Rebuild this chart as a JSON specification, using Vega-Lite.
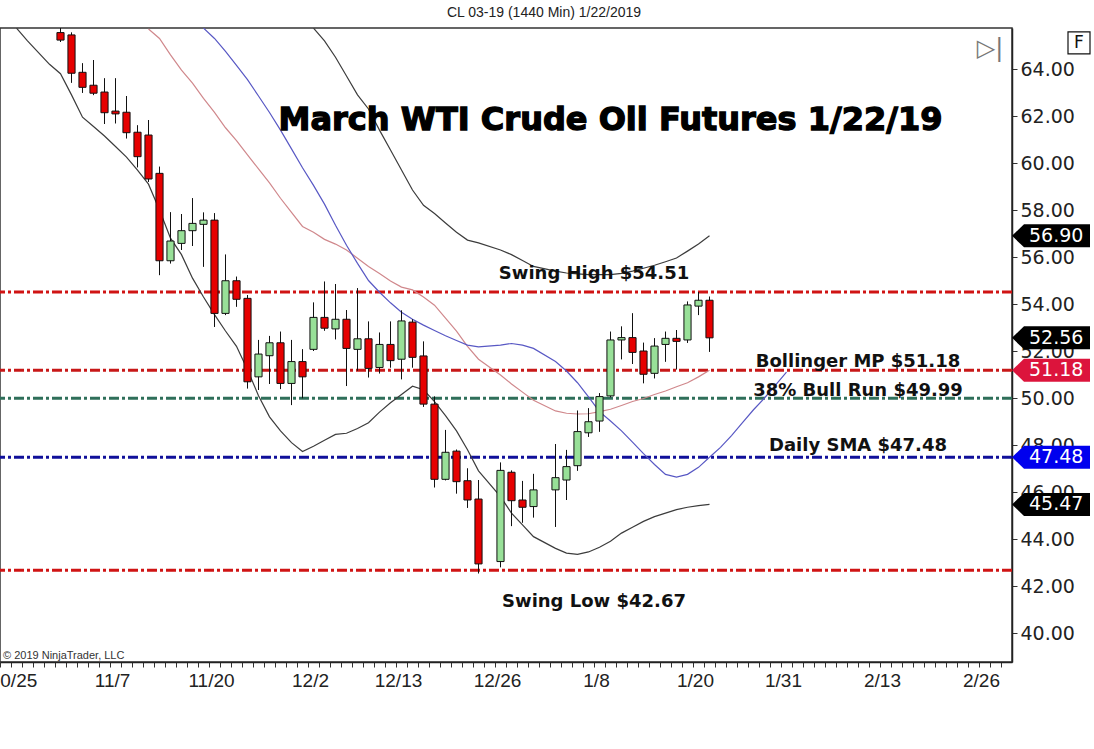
{
  "$schema": "https://vega.github.io/schema/vega-lite/v6.json",
  "width": 1012,
  "height": 634,
  "autosize": {"type": "none"},
  "padding": {"left": 0, "top": 28, "right": 82, "bottom": 87},
  "background": "white",
  "config": {"view": {"stroke": "#333", "strokeWidth": 1.5}, "font": "DejaVu Sans"},
  "title": {"text": "CL 03-19 (1440 Min)  1/22/2019", "font": "Liberation Sans", "fontSize": 14, "fontWeight": "normal", "color": "#222", "baseline": "alphabetic", "offset": -3, "dx": 38},
  "datasets": {
    "candles": [
      {"d": "2018-10-31", "o": 65.55, "h": 65.74, "l": 65.15, "c": 65.23},
      {"d": "2018-11-01", "o": 65.45, "h": 65.55, "l": 63.42, "c": 63.82},
      {"d": "2018-11-02", "o": 63.86, "h": 64.24, "l": 62.99, "c": 63.22},
      {"d": "2018-11-05", "o": 63.31, "h": 64.38, "l": 62.89, "c": 62.97},
      {"d": "2018-11-06", "o": 63.02, "h": 63.6, "l": 61.66, "c": 62.14},
      {"d": "2018-11-07", "o": 62.21, "h": 63.6, "l": 61.69, "c": 62.09},
      {"d": "2018-11-08", "o": 62.16, "h": 62.85, "l": 61.05, "c": 61.29},
      {"d": "2018-11-09", "o": 61.31, "h": 61.6, "l": 59.82, "c": 60.27},
      {"d": "2018-11-12", "o": 61.19, "h": 61.83, "l": 59.2, "c": 59.32},
      {"d": "2018-11-13", "o": 59.56, "h": 59.84, "l": 55.23, "c": 55.84},
      {"d": "2018-11-14", "o": 55.84, "h": 57.9, "l": 55.73, "c": 56.68},
      {"d": "2018-11-15", "o": 56.58, "h": 57.83, "l": 56.3, "c": 57.12},
      {"d": "2018-11-16", "o": 57.12, "h": 58.5, "l": 56.47, "c": 57.43},
      {"d": "2018-11-19", "o": 57.39, "h": 57.89, "l": 55.59, "c": 57.57},
      {"d": "2018-11-20", "o": 57.57, "h": 57.86, "l": 53.03, "c": 53.6},
      {"d": "2018-11-21", "o": 53.6, "h": 56.1, "l": 53.53, "c": 54.99},
      {"d": "2018-11-22", "o": 54.99, "h": 55.16, "l": 53.89, "c": 54.2},
      {"d": "2018-11-23", "o": 54.24, "h": 54.38, "l": 50.41, "c": 50.69},
      {"d": "2018-11-26", "o": 50.9, "h": 52.47, "l": 50.34, "c": 51.87},
      {"d": "2018-11-27", "o": 51.8, "h": 52.64, "l": 50.6, "c": 52.35},
      {"d": "2018-11-28", "o": 52.35, "h": 52.82, "l": 50.38, "c": 50.62},
      {"d": "2018-11-29", "o": 50.62, "h": 52.47, "l": 49.7, "c": 51.55},
      {"d": "2018-11-30", "o": 51.55, "h": 52.07, "l": 49.99, "c": 50.9},
      {"d": "2018-12-03", "o": 52.07, "h": 54.06, "l": 52.0, "c": 53.43},
      {"d": "2018-12-04", "o": 53.43, "h": 54.95, "l": 52.87, "c": 52.97},
      {"d": "2018-12-05", "o": 52.94, "h": 54.85, "l": 52.5, "c": 53.35},
      {"d": "2018-12-06", "o": 53.35, "h": 53.74, "l": 50.51, "c": 52.11},
      {"d": "2018-12-07", "o": 52.07, "h": 54.67, "l": 51.16, "c": 52.52},
      {"d": "2018-12-10", "o": 52.52, "h": 53.25, "l": 50.88, "c": 51.26},
      {"d": "2018-12-11", "o": 51.3, "h": 52.78, "l": 51.05, "c": 52.28},
      {"d": "2018-12-12", "o": 52.28, "h": 53.25, "l": 51.3, "c": 51.59},
      {"d": "2018-12-13", "o": 51.65, "h": 53.72, "l": 50.8, "c": 53.28},
      {"d": "2018-12-14", "o": 53.23, "h": 53.35, "l": 51.3, "c": 51.73},
      {"d": "2018-12-17", "o": 51.79, "h": 52.4, "l": 49.63, "c": 49.74},
      {"d": "2018-12-18", "o": 49.74, "h": 50.06, "l": 46.2, "c": 46.54},
      {"d": "2018-12-19", "o": 46.54, "h": 48.64, "l": 46.5, "c": 47.69},
      {"d": "2018-12-20", "o": 47.74, "h": 47.8, "l": 45.94, "c": 46.44},
      {"d": "2018-12-21", "o": 46.48, "h": 47.0, "l": 45.33, "c": 45.66},
      {"d": "2018-12-24", "o": 45.7, "h": 46.51, "l": 42.54, "c": 42.94},
      {"d": "2018-12-26", "o": 43.04, "h": 47.25, "l": 42.8, "c": 46.92},
      {"d": "2018-12-27", "o": 46.84, "h": 46.91, "l": 44.55, "c": 45.63},
      {"d": "2018-12-28", "o": 45.66, "h": 46.47, "l": 44.7, "c": 45.35},
      {"d": "2018-12-31", "o": 45.38, "h": 46.77, "l": 44.92, "c": 46.09},
      {"d": "2019-01-02", "o": 46.09, "h": 48.04, "l": 44.52, "c": 46.61},
      {"d": "2019-01-03", "o": 46.51, "h": 47.79, "l": 45.66, "c": 47.08},
      {"d": "2019-01-04", "o": 47.12, "h": 49.46, "l": 46.91, "c": 48.57},
      {"d": "2019-01-07", "o": 48.52, "h": 49.56, "l": 48.35, "c": 48.99},
      {"d": "2019-01-08", "o": 49.02, "h": 50.2, "l": 48.57, "c": 50.06},
      {"d": "2019-01-09", "o": 50.09, "h": 52.82, "l": 50.03, "c": 52.47},
      {"d": "2019-01-10", "o": 52.47, "h": 53.04, "l": 51.65, "c": 52.57},
      {"d": "2019-01-11", "o": 52.57, "h": 53.6, "l": 51.45, "c": 51.94},
      {"d": "2019-01-14", "o": 52.0, "h": 52.35, "l": 50.63, "c": 51.01},
      {"d": "2019-01-15", "o": 51.05, "h": 52.54, "l": 50.84, "c": 52.21},
      {"d": "2019-01-16", "o": 52.28, "h": 52.82, "l": 51.55, "c": 52.54},
      {"d": "2019-01-17", "o": 52.54, "h": 52.89, "l": 51.22, "c": 52.41},
      {"d": "2019-01-18", "o": 52.47, "h": 54.1, "l": 52.35, "c": 53.96},
      {"d": "2019-01-21", "o": 53.91, "h": 54.51, "l": 53.53, "c": 54.16},
      {"d": "2019-01-22", "o": 54.16, "h": 54.31, "l": 51.97, "c": 52.56}
    ],
    "bands": [
      {"d": "2018-10-25", "s": "lower", "v": 65.74},
      {"d": "2018-10-26", "s": "lower", "v": 65.2},
      {"d": "2018-10-29", "s": "lower", "v": 64.7},
      {"d": "2018-10-30", "s": "lower", "v": 64.2},
      {"d": "2018-10-31", "s": "lower", "v": 63.8},
      {"d": "2018-11-01", "s": "lower", "v": 62.9},
      {"d": "2018-11-02", "s": "lower", "v": 61.95},
      {"d": "2018-11-05", "s": "lower", "v": 61.55},
      {"d": "2018-11-06", "s": "lower", "v": 61.15},
      {"d": "2018-11-07", "s": "lower", "v": 60.7},
      {"d": "2018-11-08", "s": "lower", "v": 60.25},
      {"d": "2018-11-09", "s": "lower", "v": 59.7},
      {"d": "2018-11-12", "s": "lower", "v": 59.1},
      {"d": "2018-11-13", "s": "lower", "v": 58.0},
      {"d": "2018-11-14", "s": "lower", "v": 56.8},
      {"d": "2018-11-15", "s": "lower", "v": 56.1},
      {"d": "2018-11-16", "s": "lower", "v": 55.1},
      {"d": "2018-11-19", "s": "lower", "v": 54.3},
      {"d": "2018-11-20", "s": "lower", "v": 53.55},
      {"d": "2018-11-21", "s": "lower", "v": 52.85},
      {"d": "2018-11-22", "s": "lower", "v": 52.2},
      {"d": "2018-11-23", "s": "lower", "v": 51.2},
      {"d": "2018-11-26", "s": "lower", "v": 50.1},
      {"d": "2018-11-27", "s": "lower", "v": 49.2},
      {"d": "2018-11-28", "s": "lower", "v": 48.6},
      {"d": "2018-11-29", "s": "lower", "v": 48.1},
      {"d": "2018-11-30", "s": "lower", "v": 47.72},
      {"d": "2018-12-03", "s": "lower", "v": 47.95},
      {"d": "2018-12-04", "s": "lower", "v": 48.2},
      {"d": "2018-12-05", "s": "lower", "v": 48.45},
      {"d": "2018-12-06", "s": "lower", "v": 48.5},
      {"d": "2018-12-07", "s": "lower", "v": 48.7},
      {"d": "2018-12-10", "s": "lower", "v": 48.95},
      {"d": "2018-12-11", "s": "lower", "v": 49.4},
      {"d": "2018-12-12", "s": "lower", "v": 49.8},
      {"d": "2018-12-13", "s": "lower", "v": 50.15},
      {"d": "2018-12-14", "s": "lower", "v": 50.5},
      {"d": "2018-12-17", "s": "lower", "v": 50.35},
      {"d": "2018-12-18", "s": "lower", "v": 49.85},
      {"d": "2018-12-19", "s": "lower", "v": 49.25},
      {"d": "2018-12-20", "s": "lower", "v": 48.6},
      {"d": "2018-12-21", "s": "lower", "v": 47.8},
      {"d": "2018-12-24", "s": "lower", "v": 46.9},
      {"d": "2018-12-26", "s": "lower", "v": 45.8},
      {"d": "2018-12-27", "s": "lower", "v": 45.1},
      {"d": "2018-12-28", "s": "lower", "v": 44.6},
      {"d": "2018-12-31", "s": "lower", "v": 44.1},
      {"d": "2019-01-02", "s": "lower", "v": 43.6},
      {"d": "2019-01-03", "s": "lower", "v": 43.4},
      {"d": "2019-01-04", "s": "lower", "v": 43.35},
      {"d": "2019-01-07", "s": "lower", "v": 43.45},
      {"d": "2019-01-08", "s": "lower", "v": 43.65},
      {"d": "2019-01-09", "s": "lower", "v": 43.9},
      {"d": "2019-01-10", "s": "lower", "v": 44.25},
      {"d": "2019-01-11", "s": "lower", "v": 44.5},
      {"d": "2019-01-14", "s": "lower", "v": 44.75},
      {"d": "2019-01-15", "s": "lower", "v": 44.95},
      {"d": "2019-01-16", "s": "lower", "v": 45.1},
      {"d": "2019-01-17", "s": "lower", "v": 45.25},
      {"d": "2019-01-18", "s": "lower", "v": 45.35},
      {"d": "2019-01-21", "s": "lower", "v": 45.42},
      {"d": "2019-01-22", "s": "lower", "v": 45.47},
      {"d": "2018-12-03", "s": "upper", "v": 65.74},
      {"d": "2018-12-04", "s": "upper", "v": 65.2},
      {"d": "2018-12-05", "s": "upper", "v": 64.5},
      {"d": "2018-12-06", "s": "upper", "v": 63.7},
      {"d": "2018-12-07", "s": "upper", "v": 62.9},
      {"d": "2018-12-10", "s": "upper", "v": 62.3},
      {"d": "2018-12-11", "s": "upper", "v": 61.4},
      {"d": "2018-12-12", "s": "upper", "v": 60.55},
      {"d": "2018-12-13", "s": "upper", "v": 59.7},
      {"d": "2018-12-14", "s": "upper", "v": 58.85},
      {"d": "2018-12-17", "s": "upper", "v": 58.2},
      {"d": "2018-12-18", "s": "upper", "v": 57.85},
      {"d": "2018-12-19", "s": "upper", "v": 57.45},
      {"d": "2018-12-20", "s": "upper", "v": 57.05},
      {"d": "2018-12-21", "s": "upper", "v": 56.72},
      {"d": "2018-12-24", "s": "upper", "v": 56.6},
      {"d": "2018-12-26", "s": "upper", "v": 56.3},
      {"d": "2018-12-27", "s": "upper", "v": 56.1},
      {"d": "2018-12-28", "s": "upper", "v": 55.85},
      {"d": "2018-12-31", "s": "upper", "v": 55.6},
      {"d": "2019-01-02", "s": "upper", "v": 55.4},
      {"d": "2019-01-03", "s": "upper", "v": 55.32},
      {"d": "2019-01-04", "s": "upper", "v": 55.28},
      {"d": "2019-01-07", "s": "upper", "v": 55.25},
      {"d": "2019-01-08", "s": "upper", "v": 55.25},
      {"d": "2019-01-09", "s": "upper", "v": 55.25},
      {"d": "2019-01-10", "s": "upper", "v": 55.3},
      {"d": "2019-01-11", "s": "upper", "v": 55.4},
      {"d": "2019-01-14", "s": "upper", "v": 55.52},
      {"d": "2019-01-15", "s": "upper", "v": 55.65},
      {"d": "2019-01-16", "s": "upper", "v": 55.8},
      {"d": "2019-01-17", "s": "upper", "v": 55.96},
      {"d": "2019-01-18", "s": "upper", "v": 56.25},
      {"d": "2019-01-21", "s": "upper", "v": 56.55},
      {"d": "2019-01-22", "s": "upper", "v": 56.9},
      {"d": "2018-11-12", "s": "mid", "v": 65.7},
      {"d": "2018-11-13", "s": "mid", "v": 65.3},
      {"d": "2018-11-14", "s": "mid", "v": 64.6},
      {"d": "2018-11-15", "s": "mid", "v": 63.95},
      {"d": "2018-11-16", "s": "mid", "v": 63.4},
      {"d": "2018-11-19", "s": "mid", "v": 62.75},
      {"d": "2018-11-20", "s": "mid", "v": 62.15},
      {"d": "2018-11-21", "s": "mid", "v": 61.5},
      {"d": "2018-11-22", "s": "mid", "v": 60.95},
      {"d": "2018-11-23", "s": "mid", "v": 60.35},
      {"d": "2018-11-26", "s": "mid", "v": 59.75},
      {"d": "2018-11-27", "s": "mid", "v": 59.15},
      {"d": "2018-11-28", "s": "mid", "v": 58.5},
      {"d": "2018-11-29", "s": "mid", "v": 57.9},
      {"d": "2018-11-30", "s": "mid", "v": 57.3},
      {"d": "2018-12-03", "s": "mid", "v": 57.05},
      {"d": "2018-12-04", "s": "mid", "v": 56.75},
      {"d": "2018-12-05", "s": "mid", "v": 56.55},
      {"d": "2018-12-06", "s": "mid", "v": 56.3},
      {"d": "2018-12-07", "s": "mid", "v": 55.95},
      {"d": "2018-12-10", "s": "mid", "v": 55.6},
      {"d": "2018-12-11", "s": "mid", "v": 55.3},
      {"d": "2018-12-12", "s": "mid", "v": 54.98},
      {"d": "2018-12-13", "s": "mid", "v": 54.72},
      {"d": "2018-12-14", "s": "mid", "v": 54.6},
      {"d": "2018-12-17", "s": "mid", "v": 54.3},
      {"d": "2018-12-18", "s": "mid", "v": 53.95},
      {"d": "2018-12-19", "s": "mid", "v": 53.4},
      {"d": "2018-12-20", "s": "mid", "v": 52.85},
      {"d": "2018-12-21", "s": "mid", "v": 52.2},
      {"d": "2018-12-24", "s": "mid", "v": 51.65},
      {"d": "2018-12-26", "s": "mid", "v": 50.98},
      {"d": "2018-12-27", "s": "mid", "v": 50.6},
      {"d": "2018-12-28", "s": "mid", "v": 50.25},
      {"d": "2018-12-31", "s": "mid", "v": 49.9},
      {"d": "2019-01-02", "s": "mid", "v": 49.45},
      {"d": "2019-01-03", "s": "mid", "v": 49.35},
      {"d": "2019-01-04", "s": "mid", "v": 49.32},
      {"d": "2019-01-07", "s": "mid", "v": 49.33},
      {"d": "2019-01-08", "s": "mid", "v": 49.42},
      {"d": "2019-01-09", "s": "mid", "v": 49.52},
      {"d": "2019-01-10", "s": "mid", "v": 49.68},
      {"d": "2019-01-11", "s": "mid", "v": 49.85},
      {"d": "2019-01-14", "s": "mid", "v": 49.98},
      {"d": "2019-01-15", "s": "mid", "v": 50.15},
      {"d": "2019-01-16", "s": "mid", "v": 50.3},
      {"d": "2019-01-17", "s": "mid", "v": 50.48},
      {"d": "2019-01-18", "s": "mid", "v": 50.65},
      {"d": "2019-01-21", "s": "mid", "v": 50.9},
      {"d": "2019-01-22", "s": "mid", "v": 51.18},
      {"d": "2018-11-19", "s": "sma", "v": 65.74},
      {"d": "2018-11-20", "s": "sma", "v": 65.3},
      {"d": "2018-11-21", "s": "sma", "v": 64.75},
      {"d": "2018-11-22", "s": "sma", "v": 64.15},
      {"d": "2018-11-23", "s": "sma", "v": 63.55},
      {"d": "2018-11-26", "s": "sma", "v": 62.85},
      {"d": "2018-11-27", "s": "sma", "v": 62.15},
      {"d": "2018-11-28", "s": "sma", "v": 61.4},
      {"d": "2018-11-29", "s": "sma", "v": 60.6},
      {"d": "2018-11-30", "s": "sma", "v": 59.8},
      {"d": "2018-12-03", "s": "sma", "v": 59.05},
      {"d": "2018-12-04", "s": "sma", "v": 58.25},
      {"d": "2018-12-05", "s": "sma", "v": 57.35},
      {"d": "2018-12-06", "s": "sma", "v": 56.5},
      {"d": "2018-12-07", "s": "sma", "v": 55.73},
      {"d": "2018-12-10", "s": "sma", "v": 55.0},
      {"d": "2018-12-11", "s": "sma", "v": 54.5},
      {"d": "2018-12-12", "s": "sma", "v": 54.05},
      {"d": "2018-12-13", "s": "sma", "v": 53.65},
      {"d": "2018-12-14", "s": "sma", "v": 53.35},
      {"d": "2018-12-17", "s": "sma", "v": 53.1},
      {"d": "2018-12-18", "s": "sma", "v": 52.87},
      {"d": "2018-12-19", "s": "sma", "v": 52.65},
      {"d": "2018-12-20", "s": "sma", "v": 52.45},
      {"d": "2018-12-21", "s": "sma", "v": 52.25},
      {"d": "2018-12-24", "s": "sma", "v": 52.18},
      {"d": "2018-12-26", "s": "sma", "v": 52.25},
      {"d": "2018-12-27", "s": "sma", "v": 52.32},
      {"d": "2018-12-28", "s": "sma", "v": 52.25},
      {"d": "2018-12-31", "s": "sma", "v": 52.11},
      {"d": "2019-01-02", "s": "sma", "v": 51.55},
      {"d": "2019-01-03", "s": "sma", "v": 51.15},
      {"d": "2019-01-04", "s": "sma", "v": 50.65},
      {"d": "2019-01-07", "s": "sma", "v": 50.05},
      {"d": "2019-01-08", "s": "sma", "v": 49.42},
      {"d": "2019-01-09", "s": "sma", "v": 49.02},
      {"d": "2019-01-10", "s": "sma", "v": 48.6},
      {"d": "2019-01-11", "s": "sma", "v": 48.12},
      {"d": "2019-01-14", "s": "sma", "v": 47.63},
      {"d": "2019-01-15", "s": "sma", "v": 47.17},
      {"d": "2019-01-16", "s": "sma", "v": 46.75},
      {"d": "2019-01-17", "s": "sma", "v": 46.63},
      {"d": "2019-01-18", "s": "sma", "v": 46.75},
      {"d": "2019-01-21", "s": "sma", "v": 47.05},
      {"d": "2019-01-22", "s": "sma", "v": 47.48},
      {"d": "2019-01-23", "s": "sma", "v": 47.9},
      {"d": "2019-01-24", "s": "sma", "v": 48.4},
      {"d": "2019-01-25", "s": "sma", "v": 48.95},
      {"d": "2019-01-28", "s": "sma", "v": 49.5},
      {"d": "2019-01-29", "s": "sma", "v": 50.0},
      {"d": "2019-01-30", "s": "sma", "v": 50.55},
      {"d": "2019-01-31", "s": "sma", "v": 51.1}
    ],
    "levels": [
      {"name": "Swing High", "v": 54.51},
      {"name": "Bollinger MP", "v": 51.18},
      {"name": "38% Bull Run", "v": 49.99},
      {"name": "Daily SMA", "v": 47.48},
      {"name": "Swing Low", "v": 42.67}
    ],
    "notes": [
      {"t": "Swing High $54.51", "d": "2019-01-08", "p": 55.06},
      {"t": "Bollinger MP $51.18", "d": "2019-02-11", "p": 51.31},
      {"t": "38% Bull Run $49.99", "d": "2019-02-11", "p": 50.09},
      {"t": "Daily SMA $47.48", "d": "2019-02-11", "p": 47.76},
      {"t": "Swing Low $42.67", "d": "2019-01-08", "p": 41.11}
    ],
    "headline": [
      {"t": "March WTI Crude Oil Futures 1/22/19", "d": "2019-01-09", "p": 61.42}
    ],
    "credit": [
      {"t": "© 2019 NinjaTrader, LLC", "d": "2018-10-24", "p": 39.02}
    ],
    "icon": [
      {"t": "▷|", "d": "2019-02-26", "p": 64.87}
    ],
    "tags": [
      {"k": "upper", "v": 56.9},
      {"k": "last", "v": 52.56},
      {"k": "mid", "v": 51.18},
      {"k": "sma", "v": 47.48},
      {"k": "lower", "v": 45.47}
    ],
    "fbox": [
      {"t": "F", "p": 65.11}
    ]
  },
  "resolve": {"scale": {"color": "independent", "stroke": "independent", "fill": "independent"}},
  "layer": [
    {
      "data": {"name": "candles"},
      "mark": {"type": "rule", "color": "#111", "strokeWidth": 1, "clip": true},
      "encoding": {
        "x": {
          "field": "d", "type": "ordinal", "title": null, "bandPosition": 0.5,
          "scale": {
            "type": "band", "paddingInner": 0, "paddingOuter": 0,
            "domain": ["2018-10-24","2018-10-25","2018-10-26","2018-10-29","2018-10-30","2018-10-31","2018-11-01","2018-11-02","2018-11-05","2018-11-06","2018-11-07","2018-11-08","2018-11-09","2018-11-12","2018-11-13","2018-11-14","2018-11-15","2018-11-16","2018-11-19","2018-11-20","2018-11-21","2018-11-22","2018-11-23","2018-11-26","2018-11-27","2018-11-28","2018-11-29","2018-11-30","2018-12-03","2018-12-04","2018-12-05","2018-12-06","2018-12-07","2018-12-10","2018-12-11","2018-12-12","2018-12-13","2018-12-14","2018-12-17","2018-12-18","2018-12-19","2018-12-20","2018-12-21","2018-12-24","2018-12-25","2018-12-26","2018-12-27","2018-12-28","2018-12-31","2019-01-01","2019-01-02","2019-01-03","2019-01-04","2019-01-07","2019-01-08","2019-01-09","2019-01-10","2019-01-11","2019-01-14","2019-01-15","2019-01-16","2019-01-17","2019-01-18","2019-01-21","2019-01-22","2019-01-23","2019-01-24","2019-01-25","2019-01-28","2019-01-29","2019-01-30","2019-01-31","2019-02-01","2019-02-04","2019-02-05","2019-02-06","2019-02-07","2019-02-08","2019-02-11","2019-02-12","2019-02-13","2019-02-14","2019-02-15","2019-02-18","2019-02-19","2019-02-20","2019-02-21","2019-02-22","2019-02-25","2019-02-26","2019-02-27","2019-02-28"]
          },
          "axis": {
            "orient": "bottom", "title": null, "bandPosition": 0, "labelAngle": 0, "labelOverlap": false,
            "labelExpr": "{'2018-10-25':'10/25','2018-11-07':'11/7','2018-11-20':'11/20','2018-12-03':'12/2','2018-12-13':'12/13','2018-12-26':'12/26','2019-01-08':'1/8','2019-01-21':'1/20','2019-01-31':'1/31','2019-02-13':'2/13','2019-02-26':'2/26'}[datum.value] || ''",
            "labelFont": "Liberation Sans", "labelFontSize": 19, "labelColor": "#222", "labelPadding": 4, "labelOffset": -3,
            "tickSize": 5, "tickColor": "#333", "domainColor": "#222", "domainWidth": 1.5, "grid": false
          }
        },
        "y": {
          "field": "l", "type": "quantitative", "title": null,
          "scale": {"domain": [38.766, 65.745], "nice": false, "zero": false},
          "axis": {
            "orient": "right", "title": null, "values": [40, 42, 44, 46, 48, 50, 52, 54, 56, 58, 60, 62, 64], "format": ".2f",
            "labelFont": "DejaVu Sans", "labelFontSize": 19, "labelColor": "#222", "labelPadding": 3,
            "tickSize": 5, "tickColor": "#333", "domainColor": "#222", "domainWidth": 1.5, "grid": false
          }
        },
        "y2": {"field": "h"}
      }
    },
    {
      "data": {"name": "levels"},
      "mark": {"type": "rule", "strokeWidth": 3, "strokeDash": [10, 3, 3, 3]},
      "encoding": {
        "y": {"field": "v", "type": "quantitative", "title": null},
        "stroke": {
          "field": "name", "type": "nominal", "legend": null,
          "scale": {"domain": ["Swing High", "Bollinger MP", "38% Bull Run", "Daily SMA", "Swing Low"], "range": ["#d01414", "#c81818", "#2f6f5a", "#10109a", "#d01414"]}
        }
      }
    },
    {
      "data": {"name": "bands"},
      "mark": {"type": "line", "strokeWidth": 1.2, "clip": true},
      "encoding": {
        "x": {"field": "d", "type": "ordinal", "title": null, "bandPosition": 0.5},
        "y": {"field": "v", "type": "quantitative", "title": null},
        "color": {
          "field": "s", "type": "nominal", "legend": null,
          "scale": {"domain": ["upper", "mid", "lower", "sma"], "range": ["#3c3c3c", "#d0888c", "#3c3c3c", "#5858c4"]}
        }
      }
    },
    {
      "data": {"name": "candles"},
      "mark": {"type": "rule", "color": "#111", "strokeWidth": 1, "clip": true},
      "encoding": {
        "x": {"field": "d", "type": "ordinal", "title": null, "bandPosition": 0.5},
        "y": {"field": "l", "type": "quantitative", "title": null},
        "y2": {"field": "h"}
      }
    },
    {
      "data": {"name": "candles"},
      "mark": {"type": "bar", "width": {"band": 0.65}, "stroke": "#111", "strokeWidth": 1, "clip": true},
      "encoding": {
        "x": {"field": "d", "type": "ordinal", "title": null},
        "y": {"field": "o", "type": "quantitative", "title": null},
        "y2": {"field": "c"},
        "fill": {"condition": {"test": "datum.c >= datum.o", "value": "#98e098"}, "value": "#e60000"}
      }
    },
    {
      "data": {"name": "notes"},
      "mark": {"type": "text", "font": "DejaVu Sans", "fontWeight": "bold", "fontSize": 18, "color": "#111", "align": "center", "baseline": "alphabetic"},
      "encoding": {
        "x": {"field": "d", "type": "ordinal", "title": null, "bandPosition": 0},
        "y": {"field": "p", "type": "quantitative", "title": null},
        "text": {"field": "t"}
      }
    },
    {
      "data": {"name": "headline"},
      "mark": {"type": "text", "font": "DejaVu Sans", "fontWeight": "bold", "fontSize": 32, "color": "#000", "stroke": "#000", "strokeWidth": 1.3, "align": "center", "baseline": "alphabetic"},
      "encoding": {
        "x": {"field": "d", "type": "ordinal", "title": null, "bandPosition": 0.5},
        "y": {"field": "p", "type": "quantitative", "title": null},
        "text": {"field": "t"}
      }
    },
    {
      "data": {"name": "credit"},
      "mark": {"type": "text", "font": "Liberation Sans", "fontSize": 11, "color": "#333", "align": "left", "baseline": "middle", "dx": 3},
      "encoding": {
        "x": {"field": "d", "type": "ordinal", "title": null, "bandPosition": 0},
        "y": {"field": "p", "type": "quantitative", "title": null},
        "text": {"field": "t"}
      }
    },
    {
      "data": {"name": "icon"},
      "mark": {"type": "text", "font": "DejaVu Sans", "fontSize": 24, "color": "#777", "align": "center", "baseline": "middle"},
      "encoding": {
        "x": {"field": "d", "type": "ordinal", "title": null, "bandPosition": 1},
        "y": {"field": "p", "type": "quantitative", "title": null},
        "text": {"field": "t"}
      }
    },
    {
      "data": {"name": "tags"},
      "mark": {"type": "point", "shape": "M0,0L1.2,-1.15L7.8,-1.15L7.8,1.15L1.2,1.15Z", "size": 400, "filled": true, "opacity": 1, "strokeWidth": 0},
      "encoding": {
        "x": {"datum": "2019-02-28", "type": "ordinal", "bandPosition": 1},
        "y": {"field": "v", "type": "quantitative", "title": null},
        "fill": {
          "field": "k", "type": "nominal", "legend": null,
          "scale": {"domain": ["upper", "last", "mid", "sma", "lower"], "range": ["#000000", "#000000", "#dc143c", "#0000ee", "#000000"]}
        }
      }
    },
    {
      "data": {"name": "tags"},
      "mark": {"type": "text", "font": "DejaVu Sans", "fontSize": 19, "color": "#ffffff", "align": "left", "baseline": "middle", "dx": 17},
      "encoding": {
        "x": {"datum": "2019-02-28", "type": "ordinal", "bandPosition": 1},
        "y": {"field": "v", "type": "quantitative", "title": null},
        "text": {"field": "v", "type": "quantitative", "format": ".2f"}
      }
    },
    {
      "data": {"name": "fbox"},
      "mark": {"type": "point", "shape": "square", "size": 484, "filled": false, "opacity": 1, "stroke": "#111", "strokeWidth": 1.2, "xOffset": 67},
      "encoding": {
        "x": {"datum": "2019-02-28", "type": "ordinal", "bandPosition": 1},
        "y": {"field": "p", "type": "quantitative", "title": null}
      }
    },
    {
      "data": {"name": "fbox"},
      "mark": {"type": "text", "font": "DejaVu Sans", "fontSize": 17, "color": "#111", "align": "center", "baseline": "middle", "dx": 67},
      "encoding": {
        "x": {"datum": "2019-02-28", "type": "ordinal", "bandPosition": 1},
        "y": {"field": "p", "type": "quantitative", "title": null},
        "text": {"field": "t"}
      }
    }
  ]
}
